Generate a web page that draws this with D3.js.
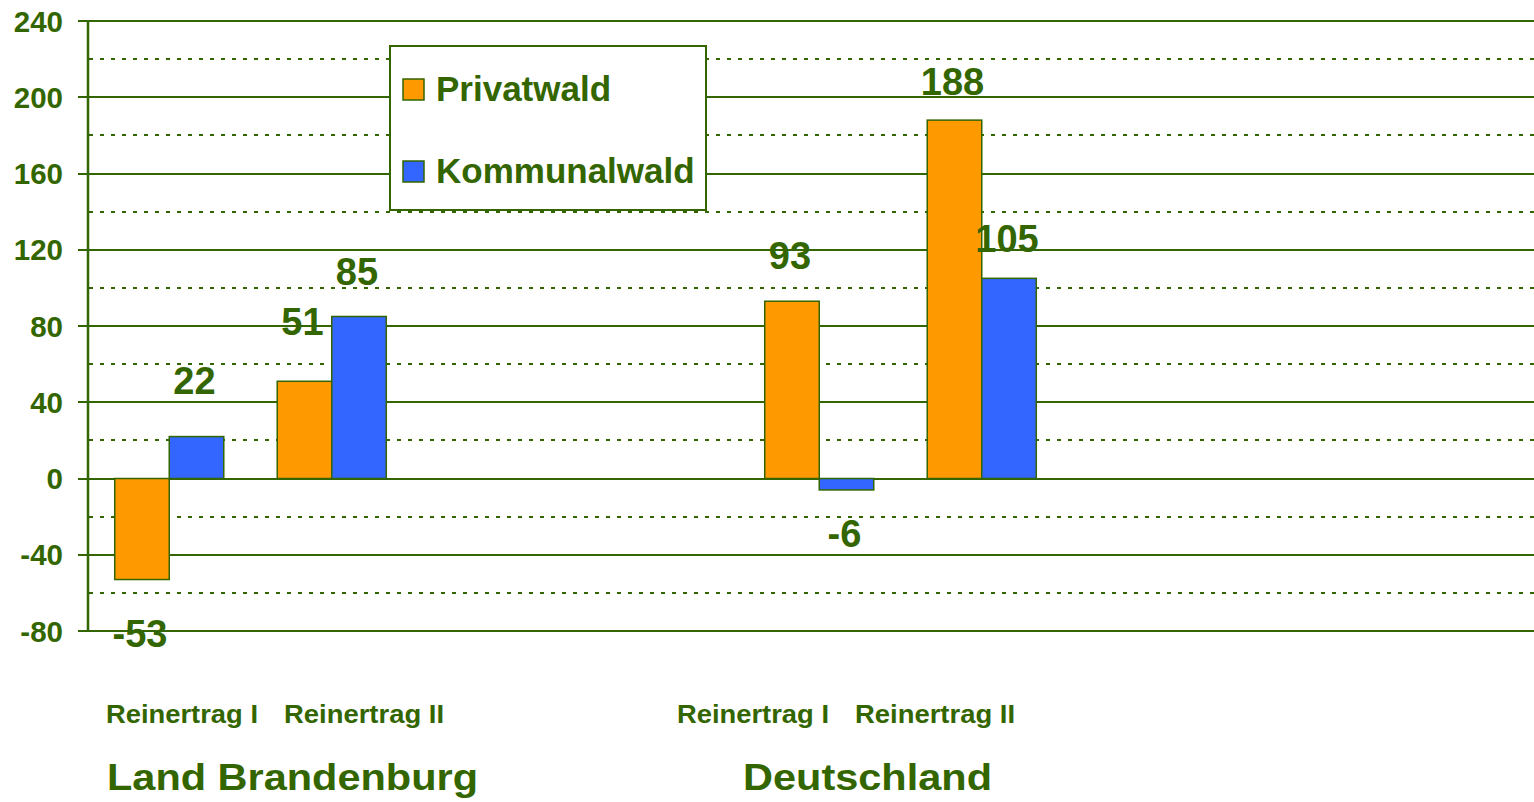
<!DOCTYPE html>
<html>
<head>
<meta charset="utf-8">
<script src="https://cdn.jsdelivr.net/npm/d3@7"></script>
<style>
  body { margin: 0; background: #fff; }
  svg { display: block; font-family: "Liberation Sans", Arial, sans-serif; font-weight: bold; }
</style>
</head>
<body>
<svg id="chart" width="1534" height="802"></svg>
<script>
const regions = ["Land Brandenburg", "Deutschland"];
const measures = ["Reinertrag I", "Reinertrag II"];
const series = ["Privatwald", "Kommunalwald"];
// order: Brandenburg RI, Brandenburg RII, Deutschland RI, Deutschland RII
const privatwald = [-53, 51, 93, 188];
const kommunalwald = [22, 85, -6, 105];
const yTicks = [-80, -40, 0, 40, 80, 120, 160, 200, 240];
const yMinorTicks = [-60, -20, 20, 60, 100, 140, 180, 220];

const green = "#336600";
const colors = { "Privatwald": "#ff9900", "Kommunalwald": "#3366ff" };

const svg = d3.select("#chart"),
      width = +svg.attr("width"),
      height = +svg.attr("height");

const axisX = 88;

const y = d3.scaleLinear()
  .domain([-80, 240])
  .range([631, 21]);

// 9 slots across the plot, regions start at slot 0 and 4
const regionStart = [0, 4];
const x0 = d3.scaleBand()
  .domain(d3.range(9))
  .range([axisX, axisX + 9 * 162.5])
  .paddingInner(0.329)
  .paddingOuter(0.1645);

const x1 = d3.scaleBand()
  .domain(series)
  .range([0, x0.bandwidth()]);

// build rows from the arrays
const rows = [];
regions.forEach((r, ri) => {
  measures.forEach((m, mi) => {
    const i = ri * measures.length + mi;
    rows.push({ region: r, measure: m, slot: regionStart[ri] + mi,
                values: [
                  { key: "Privatwald", value: privatwald[i] },
                  { key: "Kommunalwald", value: kommunalwald[i] }
                ] });
  });
});

// value label placement (baseline offset from bar end, px)
const labelDy = {
  "Privatwald": [67, -46, -32, -25],
  "Kommunalwald": [-43, -31, 57, -26]
};

// gridlines (snapped to whole pixels so the 2px lines stay crisp)
svg.append("g")
  .selectAll("line")
  .data(yMinorTicks)
  .join("line")
    .attr("x1", axisX + 1)
    .attr("x2", width)
    .attr("y1", d => Math.round(y(d)))
    .attr("y2", d => Math.round(y(d)))
    .attr("stroke", green)
    .attr("stroke-width", 2)
    .attr("stroke-dasharray", "4,7");

svg.append("g")
  .selectAll("line")
  .data(yTicks)
  .join("line")
    .attr("x1", axisX - 10)
    .attr("x2", width)
    .attr("y1", d => Math.round(y(d)))
    .attr("y2", d => Math.round(y(d)))
    .attr("stroke", green)
    .attr("stroke-width", 2);

// tick labels
svg.append("g")
  .selectAll("text")
  .data(yTicks)
  .join("text")
    .attr("x", 63)
    .attr("y", d => y(d) + 10.5)
    .attr("text-anchor", "end")
    .attr("fill", green)
    .style("font-size", "29.5px")
    .text(d => d);

// bars
const groups = svg.append("g")
  .selectAll("g")
  .data(rows)
  .join("g")
    .attr("transform", d => `translate(${x0(d.slot)},0)`);

groups.selectAll("rect")
  .data(d => d.values)
  .join("rect")
    .attr("x", d => x1(d.key))
    .attr("width", x1.bandwidth())
    .attr("y", d => y(Math.max(0, d.value)))
    .attr("height", d => Math.abs(y(d.value) - y(0)))
    .attr("fill", d => colors[d.key])
    .attr("stroke", green)
    .attr("stroke-width", 1.5);

// axis line
svg.append("line")
  .attr("x1", axisX).attr("x2", axisX)
  .attr("y1", y(240)).attr("y2", y(-80))
  .attr("stroke", green)
  .attr("stroke-width", 2.5);

// value labels
rows.forEach((row, i) => {
  row.values.forEach(v => {
    svg.append("text")
      .attr("x", x0(row.slot) + x1(v.key) + x1.bandwidth() / 2 - 2)
      .attr("y", y(v.value) + labelDy[v.key][i])
      .attr("text-anchor", "middle")
      .attr("fill", green)
      .style("font-size", "38px")
      .text(v.value);
  });
});

// category labels (stretched like the original slide text)
const measureLabelX = [[106, 284], [677, 855]];
const measureLabelW = [152, 160];
const regionLabelX = [107, 743];
const regionLabelW = [371, 249];

regions.forEach((r, ri) => {
  measures.forEach((m, mi) => {
    svg.append("text")
      .attr("x", measureLabelX[ri][mi])
      .attr("y", 723)
      .attr("fill", green)
      .attr("textLength", measureLabelW[mi])
      .attr("lengthAdjust", "spacingAndGlyphs")
      .style("font-size", "25px")
      .text(m);
  });
  svg.append("text")
    .attr("x", regionLabelX[ri])
    .attr("y", 790)
    .attr("fill", green)
    .attr("textLength", regionLabelW[ri])
    .attr("lengthAdjust", "spacingAndGlyphs")
    .style("font-size", "37px")
    .text(r);
});

// legend
const legend = svg.append("g").attr("transform", "translate(390,46)");
legend.append("rect")
  .attr("width", 316)
  .attr("height", 164)
  .attr("fill", "#fff")
  .attr("stroke", green)
  .attr("stroke-width", 2);

const items = legend.selectAll("g.item")
  .data(series)
  .join("g")
    .attr("class", "item")
    .attr("transform", (d, i) => `translate(13,${33 + i * 82})`);

items.append("rect")
  .attr("width", 21)
  .attr("height", 21)
  .attr("fill", d => colors[d])
  .attr("stroke", green)
  .attr("stroke-width", 1.5);

items.append("text")
  .attr("x", 33)
  .attr("y", 22)
  .attr("fill", green)
  .style("font-size", "35px")
  .text(d => d);
</script>
</body>
</html>
